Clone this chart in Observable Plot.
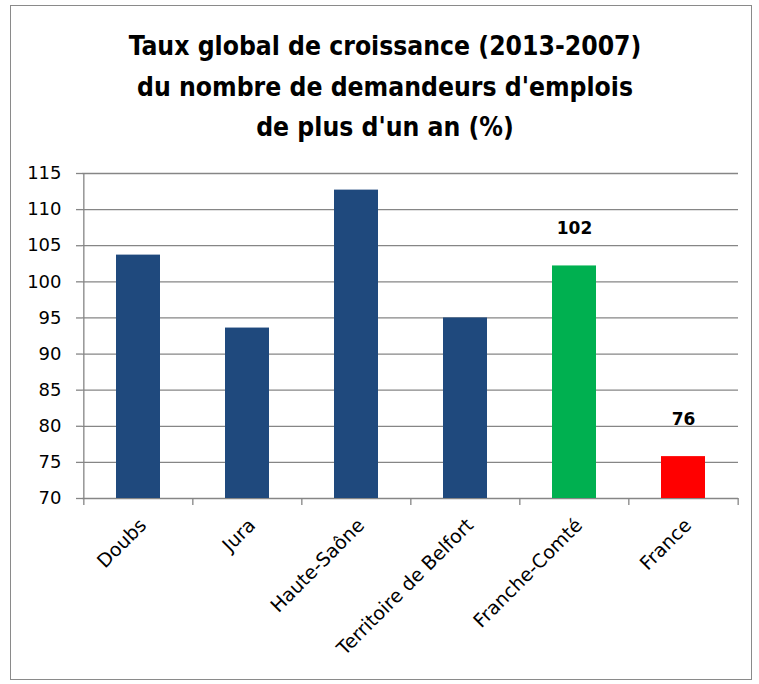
<!DOCTYPE html>
<html><head><meta charset="utf-8">
<script src="https://cdn.jsdelivr.net/npm/d3@7"></script>
<script src="https://cdn.jsdelivr.net/npm/@observablehq/plot@0.6"></script>
<style>
body{margin:0;background:#fff;width:759px;height:684px;position:relative;overflow:hidden;font-family:"DejaVu Sans",sans-serif}
#frame{position:absolute;left:10px;top:5px;width:742px;height:675px;border:1.5px solid #8a8a8a;box-sizing:border-box}
#title{position:absolute;left:0;top:26px;width:770px;text-align:center;font-family:"DejaVu Sans Condensed","Open Sans",sans-serif;font-weight:bold;font-size:27px;line-height:40.5px;color:#000}
#chart{position:absolute;left:0;top:150px}
</style></head><body>
<div id="frame"></div>
<div id="title">Taux global de croissance (2013-2007)<br>du nombre de demandeurs d'emplois<br>de plus d'un an (%)</div>
<div id="chart"></div>
<script>
const categories = ["Doubs", "Jura", "Haute-Saône", "Territoire de Belfort", "Franche-Comté", "France"];
const values = [103.7, 93.6, 112.7, 95.0, 102.2, 75.8];
const barColors = ["#1F497D", "#1F497D", "#1F497D", "#1F497D", "#00B050", "#FF0000"];
const valueLabels = ["", "", "", "", "102", "76"];
const yTicks = [70, 75, 80, 85, 90, 95, 100, 105, 110, 115];

// fit title line 1 to the reference width
(function () {
  const t = document.getElementById("title");
  const cs = getComputedStyle(t);
  const ctx = document.createElement("canvas").getContext("2d");
  ctx.font = `bold 27px ${cs.fontFamily}`;
  const w = ctx.measureText("Taux global de croissance (2013-2007)").width;
  if (w > 0) t.style.fontSize = (27 * 513 / w).toFixed(2) + "px";
})();

const data = categories.map((c, i) => ({cat: c, value: values[i], color: barColors[i], label: valueLabels[i]}));

const W = 759, H = 534, mL = 82, mR = 21, mT = 23, mB = 186;
const bw = (W - mL - mR) / categories.length;
const grid = "#868686";

const chart = Plot.plot({
  width: W, height: H,
  marginTop: mT, marginBottom: mB, marginLeft: mL, marginRight: mR,
  x: {domain: categories, paddingInner: 0.6, paddingOuter: 0.3, axis: null},
  y: {domain: [70, 115], axis: null},
  color: {type: "identity"},
  style: {fontFamily: "'DejaVu Sans', sans-serif", fontSize: "17px", color: "#000", background: "transparent", overflow: "visible"},
  marks: [
    Plot.ruleY(yTicks, {stroke: grid, strokeWidth: 1.3}),
    Plot.axisY(yTicks, {tickSize: 6, tickPadding: 15, stroke: grid, strokeWidth: 1.3, fill: "#000", fontSize: 18, anchor: "left", label: null}),
    Plot.ruleX(categories.slice(0, 1), {x: d => d, dx: -bw / 2, stroke: grid, strokeWidth: 1.3}),
    Plot.barY(data, {x: "cat", y1: 70, y2: "value", fill: "color"}),
    Plot.ruleX(categories, {x: d => d, y1: 70, y2: 70, insetBottom: -7, dx: -bw / 2, stroke: grid, strokeWidth: 1.3}),
    Plot.ruleX(categories.slice(-1), {x: d => d, y1: 70, y2: 70, insetBottom: -7, dx: bw / 2, stroke: grid, strokeWidth: 1.3}),
    Plot.text(data.filter(d => d.label), {x: "cat", y: "value", text: "label", dy: -37, fontWeight: "bold", fontSize: 17, fill: "#000"}),
    Plot.text(categories, {x: d => d, frameAnchor: "bottom", rotate: -45, textAnchor: "end", dx: 9, dy: 28, fontSize: 19, fill: "#000"})
  ]
});
document.getElementById("chart").appendChild(chart);
</script>
</body></html>
